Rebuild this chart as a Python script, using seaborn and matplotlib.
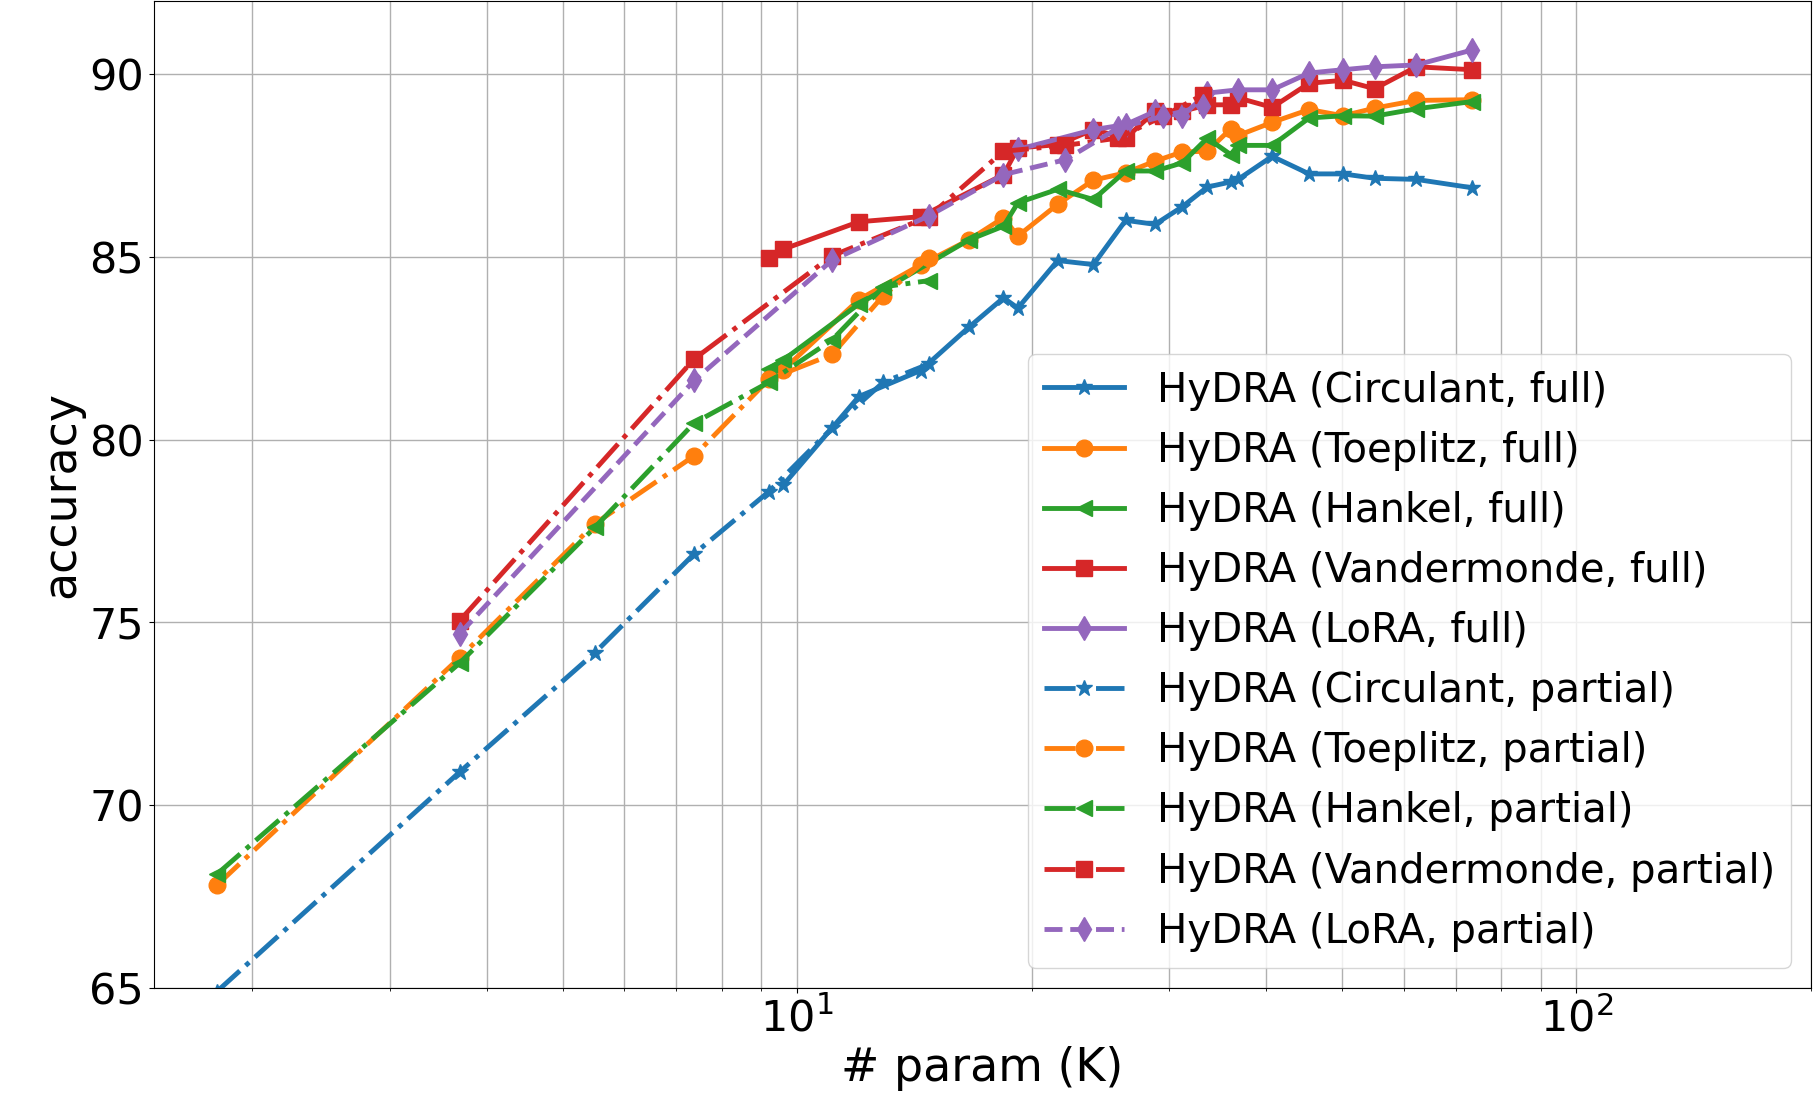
import matplotlib
matplotlib.use("Agg")
import matplotlib.pyplot as plt
import seaborn as sns

# -----------------------------
# DATA
# -----------------------------
circ_full_x = [9.6, 12.0, 14.4, 16.6, 18.4, 19.2, 21.6, 24.0, 26.4, 28.8, 31.2, 33.6, 36.0, 36.8, 40.7, 45.4, 50.2, 55.1, 62.3, 73.5]
circ_full_y = [78.76, 81.18, 81.89, 83.07, 83.88, 83.6, 84.9, 84.79, 86.0, 85.89, 86.37, 86.91, 87.05, 87.12, 87.75, 87.27, 87.27, 87.15, 87.12, 86.89]

toep_full_x = [9.6, 12.0, 14.4, 16.6, 18.4, 19.2, 21.6, 24.0, 26.4, 28.8, 31.2, 33.6, 36.0, 36.8, 40.7, 45.4, 50.2, 55.1, 62.3, 73.5]
toep_full_y = [81.91, 83.83, 84.78, 85.46, 86.07, 85.57, 86.44, 87.1, 87.3, 87.62, 87.87, 87.89, 88.5, 88.32, 88.68, 89.03, 88.86, 89.07, 89.28, 89.3]

hank_full_x = [9.2, 9.6, 12.0, 16.6, 18.4, 19.2, 21.6, 24.0, 26.4, 28.8, 31.2, 33.6, 36.0, 36.8, 40.7, 45.4, 50.2, 55.1, 62.3, 73.5]
hank_full_y = [81.94, 82.18, 83.71, 85.46, 85.84, 86.48, 86.85, 86.57, 87.35, 87.35, 87.57, 88.25, 87.8, 88.05, 88.05, 88.8, 88.86, 88.85, 89.05, 89.25]

vand_full_x = [9.2, 9.6, 12.0, 14.4, 18.4, 19.2, 21.6, 24.0, 26.4, 28.8, 31.2, 33.6, 36.0, 36.8, 40.7, 45.4, 50.2, 55.1, 62.3, 73.5]
vand_full_y = [84.98, 85.21, 85.96, 86.1, 87.25, 87.98, 88.07, 88.48, 88.25, 88.98, 88.98, 89.16, 89.16, 89.35, 89.09, 89.75, 89.83, 89.6, 90.2, 90.12]

lora_full_x = [19.2, 24.0, 26.4, 28.8, 31.2, 33.6, 36.8, 40.7, 45.4, 50.2, 55.1, 62.3, 73.5]
lora_full_y = [87.94, 88.48, 88.62, 88.98, 88.85, 89.48, 89.57, 89.57, 90.03, 90.12, 90.2, 90.25, 90.66]

circ_part_x = [1.80, 3.69, 5.50, 7.38, 9.2, 11.09, 12.9, 14.75]
circ_part_y = [64.9, 70.91, 74.17, 76.88, 78.58, 80.32, 81.57, 82.07]

toep_part_x = [1.80, 3.69, 5.50, 7.38, 9.2, 11.09, 12.9, 14.75]
toep_part_y = [67.81, 74.04, 77.70, 79.56, 81.65, 82.33, 83.94, 84.97]

hank_part_x = [1.80, 3.69, 5.50, 7.38, 9.2, 11.09, 12.9, 14.75]
hank_part_y = [68.11, 73.89, 77.6, 80.46, 81.57, 82.73, 84.18, 84.35]

vand_part_x = [3.69, 7.38, 11.09, 14.75, 18.4, 22.1, 25.8, 29.5, 33.2]
vand_part_y = [75.05, 82.21, 85.03, 86.1, 87.89, 88.05, 88.25, 88.85, 89.44]

lora_part_x = [3.69, 7.38, 11.09, 14.75, 18.4, 22.1, 25.8, 29.5, 33.2]
lora_part_y = [74.69, 81.62, 84.91, 86.12, 87.25, 87.66, 88.52, 88.85, 89.12]

# -----------------------------
# FIGURE
# -----------------------------
plt.rcParams["font.size"] = 29
pal = sns.color_palette("tab10")

fig = plt.figure(figsize=(18.15, 11), dpi=100)
ax = fig.add_axes([0.0848, 0.1018, 0.913, 0.8973])

series = [
    ("HyDRA (Circulant, full)", circ_full_x, circ_full_y, pal[0], "*", "-"),
    ("HyDRA (Toeplitz, full)", toep_full_x, toep_full_y, pal[1], "o", "-"),
    ("HyDRA (Hankel, full)", hank_full_x, hank_full_y, pal[2], "<", "-"),
    ("HyDRA (Vandermonde, full)", vand_full_x, vand_full_y, pal[3], "s", "-"),
    ("HyDRA (LoRA, full)", lora_full_x, lora_full_y, pal[4], "d", "-"),
    ("HyDRA (Circulant, partial)", circ_part_x, circ_part_y, pal[0], "*", "-."),
    ("HyDRA (Toeplitz, partial)", toep_part_x, toep_part_y, pal[1], "o", "-."),
    ("HyDRA (Hankel, partial)", hank_part_x, hank_part_y, pal[2], "<", "-."),
    ("HyDRA (Vandermonde, partial)", vand_part_x, vand_part_y, pal[3], "s", "-."),
    ("HyDRA (LoRA, partial)", lora_part_x, lora_part_y, pal[4], "d", "--"),
]

for label, xs, ys, col, mk, ls in series:
    sns.lineplot(x=xs, y=ys, ax=ax, color=col, marker=mk, linestyle=ls,
                 linewidth=3.5, markersize=12, markeredgecolor=col,
                 markeredgewidth=1, label=label, sort=False)

ax.set_xscale("log")
ax.set_xlim(1.495, 200)
ax.set_ylim(65, 92)
ax.set_yticks([65, 70, 75, 80, 85, 90])
ax.tick_params(labelsize=31)
ax.grid(True, which="both", color="#b0b0b0", linewidth=1)
ax.set_axisbelow(True)

ax.set_xlabel("# param (K)", fontsize=33)
ax.set_ylabel("accuracy", fontsize=33)
ax.legend(loc="lower right", fontsize=29)

fig.savefig("out.png", dpi=100)
